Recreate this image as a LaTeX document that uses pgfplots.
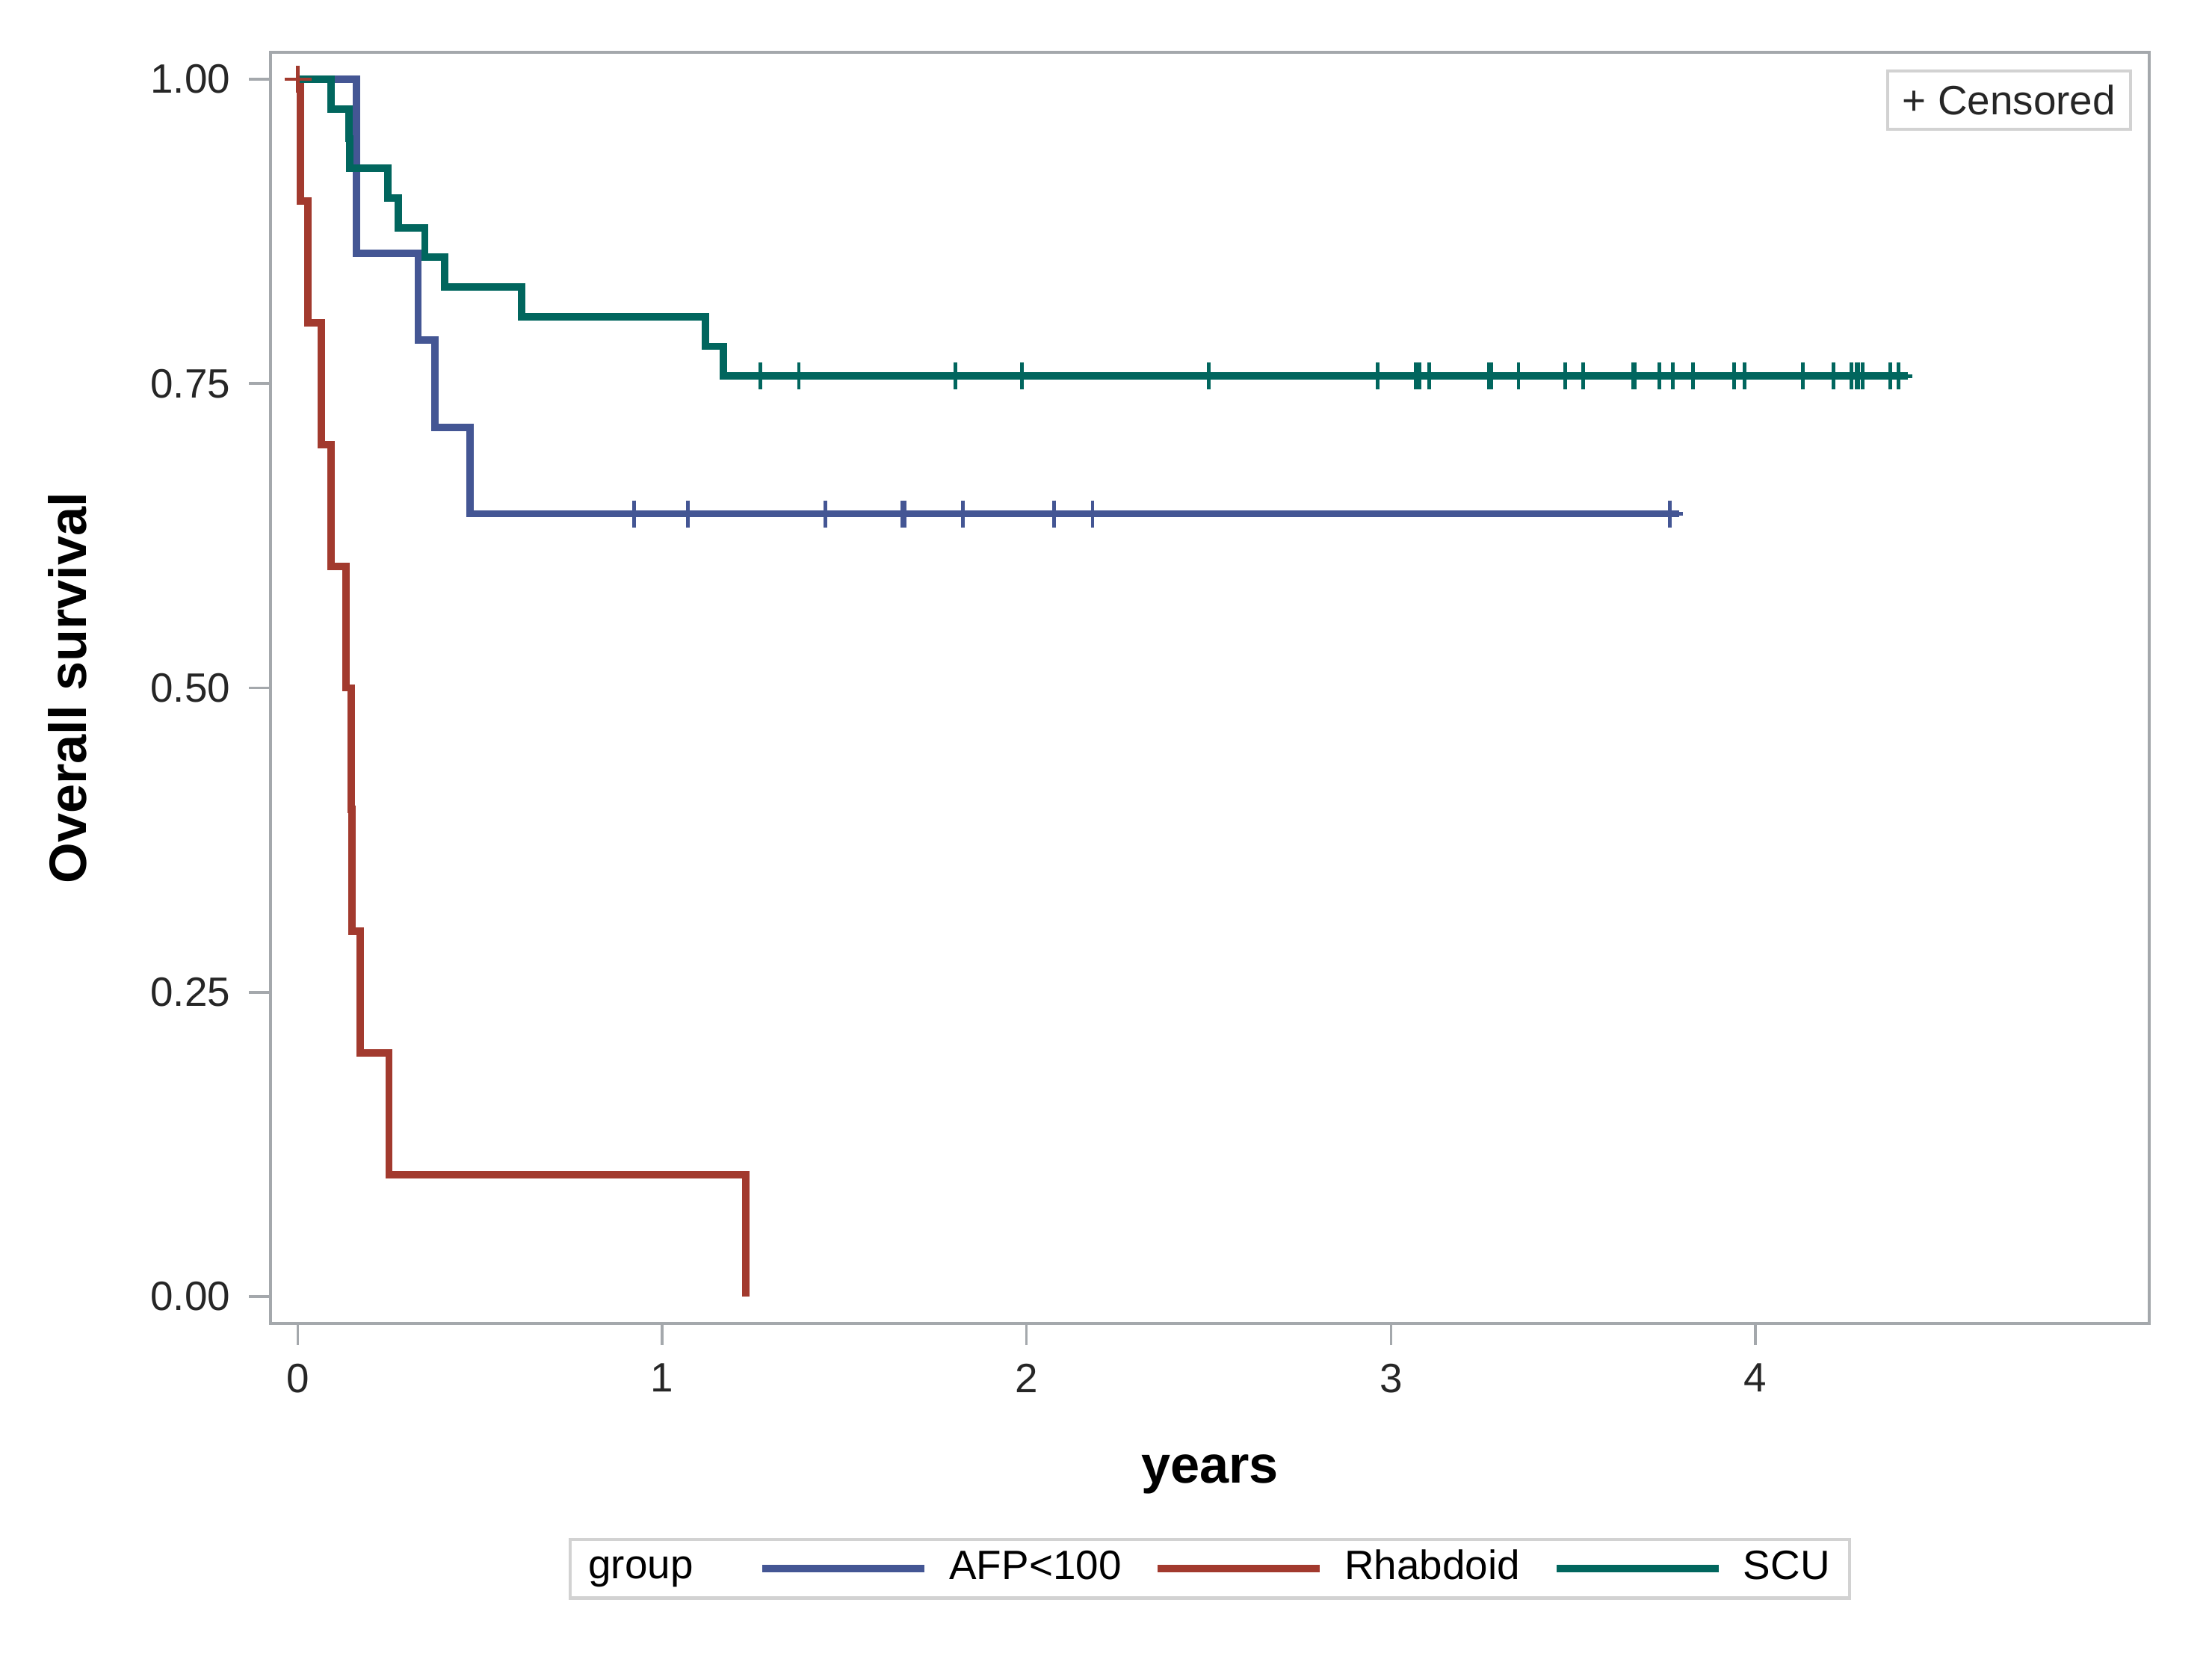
\documentclass[border=0pt]{standalone}
\usepackage{fontspec}
\setmainfont{Liberation Sans}
\usepackage{pgfplots}
\pgfplotsset{compat=1.18}

\definecolor{afp}{HTML}{445694}
\definecolor{rhab}{HTML}{A23A2E}
\definecolor{scu}{HTML}{01665E}
\definecolor{framegray}{HTML}{A4A8AC}
\definecolor{boxgray}{HTML}{D2D2D2}

\begin{document}
\begin{tikzpicture}
\begin{axis}[
  scale only axis, width=125.7mm, height=85.05mm,
  xmin=-0.0749, xmax=5.081, ymin=-0.0221, ymax=1.0221,
  xtick={0,1,2,3,4}, ytick={0,0.25,0.5,0.75,1},
  xtick pos=bottom, ytick pos=left, tick align=outside,
  major tick length=1.45mm,
  major tick style={draw=framegray, line width=0.5pt},
  axis line style={draw=framegray, line width=0.6pt},
  /pgf/number format/assume math mode=true,
  y tick label style={/pgf/number format/fixed, /pgf/number format/fixed zerofill, /pgf/number format/precision=2},
  tick label style={font=\fontsize{7.8}{9}\selectfont, text=black!85},
  xlabel={years}, ylabel={Overall survival},
  label style={font=\fontsize{10}{12}\selectfont\bfseries},
  xlabel style={at={(axis description cs:0.5,-0.1188)}, anchor=center},
  ylabel style={at={(axis description cs:-0.108,0.5)}, anchor=center},
  legend style={at={(axis description cs:0.5,-0.1687)}, anchor=north,
    legend columns=-1, draw=boxgray, line width=0.6pt,
    font=\fontsize{7.8}{9}\selectfont, inner xsep=1.3mm, inner ysep=0.3mm,
    nodes={inner xsep=0pt, inner ysep=0.4mm},
    /tikz/every odd column/.append style={column sep=1.4mm},
    /tikz/every even column/.append style={column sep=2.2mm}},
  legend image code/.code={\draw[#1, line width=1.4pt] (0mm,0mm) -- (10.85mm,0mm);},
]
\coordinate (sw) at (rel axis cs:0,0);
\coordinate (ne) at (rel axis cs:1,1);

\addlegendimage{empty legend}
\addlegendentry{\kern-1.5mm\raisebox{-0.35mm}{group}\kern2.2mm}

% AFP<100
\addplot[const plot, afp, line width=1.4pt] coordinates {
  (0,1) (0.1606,0.857) (0.330,0.786) (0.376,0.714) (0.4723,0.643) (3.791,0.643)
};
\addlegendentry{AFP<100}

% Rhabdoid
\addplot[const plot, rhab, line width=1.4pt] coordinates {
  (0,1) (0.0076,0.9) (0.0277,0.8) (0.0644,0.7) (0.0919,0.6) (0.133,0.5)
  (0.1466,0.4) (0.148,0.3) (0.171,0.2) (0.250,0.1) (1.229,0)
};
\addlegendentry{Rhabdoid}

% SCU
\addplot[const plot, scu, line width=1.4pt] coordinates {
  (0,1) (0.0918,0.9756) (0.1405,0.9512) (0.1423,0.9268) (0.2477,0.9024)
  (0.2752,0.8780) (0.3485,0.8537) (0.4035,0.8293) (0.6142,0.8049)
  (1.1184,0.7805) (1.1686,0.7561) (4.419,0.7561)
};
\addlegendentry{SCU}

% censored observations
\addplot[forget plot, only marks, mark=+, mark size=0.9mm, afp, line width=0.7pt] coordinates {
  (0.923,0.643) (1.070,0.643) (1.448,0.643) (1.660,0.643) (1.665,0.643)
  (1.825,0.643) (2.076,0.643) (2.181,0.643) (3.765,0.643)
};
\addplot[forget plot, only marks, mark=+, mark size=0.9mm, rhab, line width=0.7pt] coordinates {
  (0,1)
};
\addplot[forget plot, only marks, mark=+, mark size=0.9mm, scu, line width=0.7pt] coordinates {
  (1.270,0.7561) (1.375,0.7561) (1.805,0.7561) (1.987,0.7561) (2.500,0.7561)
  (2.963,0.7561) (3.068,0.7561) (3.079,0.7561) (3.105,0.7561) (3.268,0.7561)
  (3.275,0.7561) (3.350,0.7561) (3.479,0.7561) (3.528,0.7561) (3.664,0.7561)
  (3.670,0.7561) (3.736,0.7561) (3.773,0.7561) (3.829,0.7561) (3.941,0.7561)
  (3.970,0.7561) (4.130,0.7561) (4.214,0.7561) (4.263,0.7561) (4.277,0.7561)
  (4.282,0.7561) (4.295,0.7561) (4.370,0.7561) (4.393,0.7561)
};

\node[draw=boxgray, line width=0.6pt, anchor=north east, inner xsep=1mm, inner ysep=0.3mm,
  minimum height=3.9mm, font=\fontsize{7.8}{9}\selectfont, text=black!85]
  at ([xshift=-1.15mm, yshift=-1.15mm]rel axis cs:1,1) {+ Censored};
\end{axis}
\path ([xshift=-18.1mm, yshift=-22mm]sw) rectangle ([xshift=4.2mm, yshift=3.5mm]ne);
\end{tikzpicture}
\end{document}
